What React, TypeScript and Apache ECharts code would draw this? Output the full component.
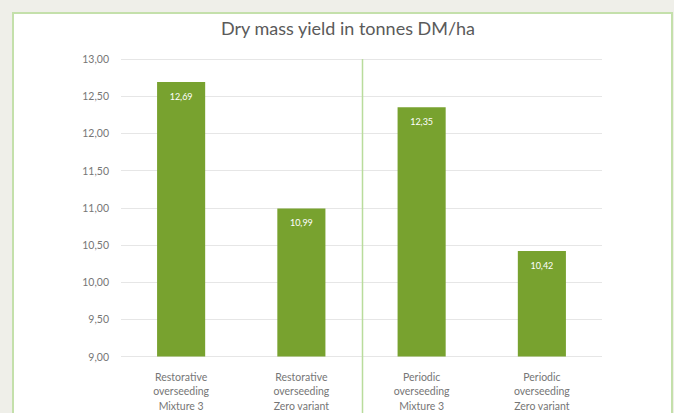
import React, { useEffect, useRef } from "react";
import * as echarts from "echarts";

const titleText = "Dry mass yield in tonnes DM/ha";
const categories = [
  "Restorative\noverseeding\nMixture 3",
  "Restorative\noverseeding\nZero variant",
  "Periodic\noverseeding\nMixture 3",
  "Periodic\noverseeding\nZero variant",
];
const yields = [12.69, 10.99, 12.35, 10.42];
const yMin = 9;
const yMax = 13;
const yStep = 0.5;

const fmt = (v: number) => v.toFixed(2).replace(".", ",");

export default function App() {
  const ref = useRef<HTMLDivElement>(null);
  useEffect(() => {
    if (!ref.current) return;
    const chart = echarts.init(ref.current, undefined, { renderer: "svg" });
    const font = "Lato, 'Open Sans', sans-serif";
    const gridTop = 59;
    const gridBottom = 53;
    chart.setOption({
      animation: false,
      backgroundColor: "transparent",
      title: {
        text: titleText,
        left: 343,
        textAlign: "center",
        top: 14,
        textStyle: { fontFamily: font, fontSize: 18, fontWeight: "normal", color: "#5a5a5a" },
      },
      grid: { left: 121, right: 72, top: gridTop, bottom: gridBottom },
      xAxis: {
        type: "category",
        data: categories,
        axisLine: { show: false },
        axisTick: { show: false },
        axisLabel: {
          fontFamily: font,
          fontSize: 10.5,
          color: "#767676",
          lineHeight: 14.5,
          margin: 13,
          interval: 0,
        },
      },
      yAxis: {
        type: "value",
        min: yMin,
        max: yMax,
        interval: yStep,
        axisLine: { show: false },
        axisTick: { show: false },
        axisLabel: {
          fontFamily: font,
          fontSize: 10.5,
          color: "#767676",
          margin: 12,
          formatter: (v: number) => fmt(v),
        },
        splitLine: { lineStyle: { color: "#e6e6e6", width: 1 } },
      },
      series: [
        {
          type: "bar",
          data: yields,
          barWidth: "40%",
          itemStyle: { color: "#78a22f" },
          label: {
            show: true,
            position: "insideTop",
            distance: 10,
            color: "#ffffff",
            fontFamily: font,
            fontSize: 9,
            formatter: (p: any) => fmt(p.value),
          },
        },
      ],
    });
    const x1 = chart.convertToPixel({ xAxisIndex: 0 }, 1) as number;
    const x2 = chart.convertToPixel({ xAxisIndex: 0 }, 2) as number;
    const xd = Math.round((x1 + x2) / 2) + 0.5;
    chart.setOption({
      graphic: [
        {
          type: "rect",
          z: -10,
          silent: true,
          shape: { x: 13, y: 13, width: 659, height: 420 },
          style: { fill: "#ffffff", stroke: "#c4e0ab", lineWidth: 2 },
        },
        {
          type: "line",
          z: 10,
          silent: true,
          shape: { x1: xd, y1: gridTop, x2: xd, y2: 413 },
          style: { stroke: "#b9dc9c", lineWidth: 1.5 },
        },
      ],
    });
    return () => chart.dispose();
  }, []);
  return (
    <div
      style={{
        position: "fixed",
        left: 0,
        top: 0,
        width: 674,
        height: 413,
        background: "#efefe9",
      }}
    >
      <div ref={ref} style={{ width: 674, height: 413 }} />
    </div>
  );
}
